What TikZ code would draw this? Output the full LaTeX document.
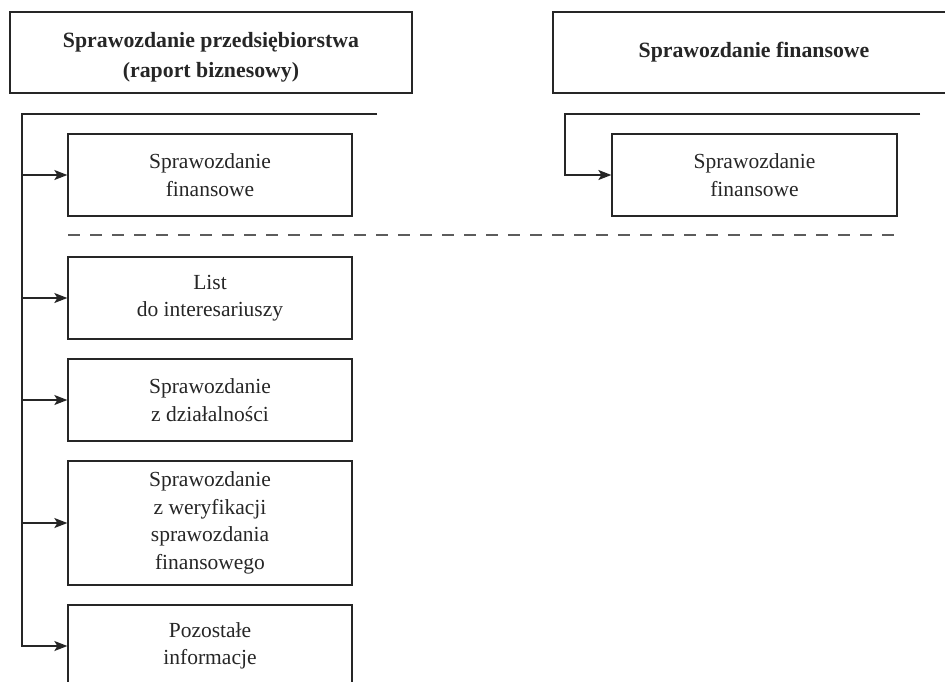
\documentclass[tikz,border=0pt]{standalone}
\usepackage{fontspec}
\setmainfont{Liberation Serif}
\usetikzlibrary{arrows.meta}
\definecolor{ink}{HTML}{262626}
\tikzset{
  headbox/.style={draw=ink, line width=1.3pt, minimum width=402pt, minimum height=81pt,
    inner sep=0pt, align=center, font=\fontsize{21.8}{30}\selectfont\bfseries, text=ink},
  itembox/.style={draw=ink, line width=1.3pt, minimum width=284pt, minimum height=82pt,
    inner sep=0pt, align=center, font=\fontsize{21.5}{27.5}\selectfont, text=ink},
  link/.style={draw=ink, line width=1.4pt},
  arrowlink/.style={link, -{Stealth[length=13pt,width=10pt,inset=3pt]}},
  divider/.style={draw=ink!75, line width=1.3pt, dash pattern=on 12pt off 10pt}
}
\begin{document}
\begin{tikzpicture}[x=1pt,y=-1pt]
\clip (0,0) rectangle (945,681);
\fill[white] (0,0) rectangle (945,681);

% report headings
\node[headbox] (hl) at (211,52.5) {\raisebox{-3.5pt}[\height][\depth]{\begin{tabular}{@{}c@{}}Sprawozdanie przedsiębiorstwa\\(raport biznesowy)\end{tabular}}};
\node[headbox] (hr) at (754,52.5) {Sprawozdanie finansowe};

% components of the business report
\node[itembox] (b1) at (210,175) {Sprawozdanie\\finansowe};
\node[itembox] (b2) at (210,298) {List\\do interesariuszy};
\node[itembox] (b3) at (210,400) {Sprawozdanie\\z działalności};
\node[itembox, minimum height=124pt] (b4) at (210,523) {Sprawozdanie\\z weryfikacji\\sprawozdania\\finansowego};
\node[itembox] (b5) at (210,646) {Pozostałe\\informacje};

% component of the financial statement
\node[itembox, minimum width=285pt] (r1) at (754.5,175) {Sprawozdanie\\finansowe};

% bracket lines
\coordinate (lt) at (377,114);
\coordinate (lc) at (22,114);
\coordinate (rt) at (920,114);
\coordinate (rc) at (565,114);

\draw[arrowlink] (lt) -- (lc) |- (b5.west);
\foreach \b in {b1,b2,b3,b4}
  \draw[arrowlink] (lc |- \b.west) -- (\b.west);
\draw[arrowlink] (rt) -- (rc) |- (r1.west);

% separator between financial and non-financial parts
\coordinate (dl) at (68,235);
\coordinate (dr) at (897,235);
\draw[divider] (dl) -- (dr);
\end{tikzpicture}
\end{document}
